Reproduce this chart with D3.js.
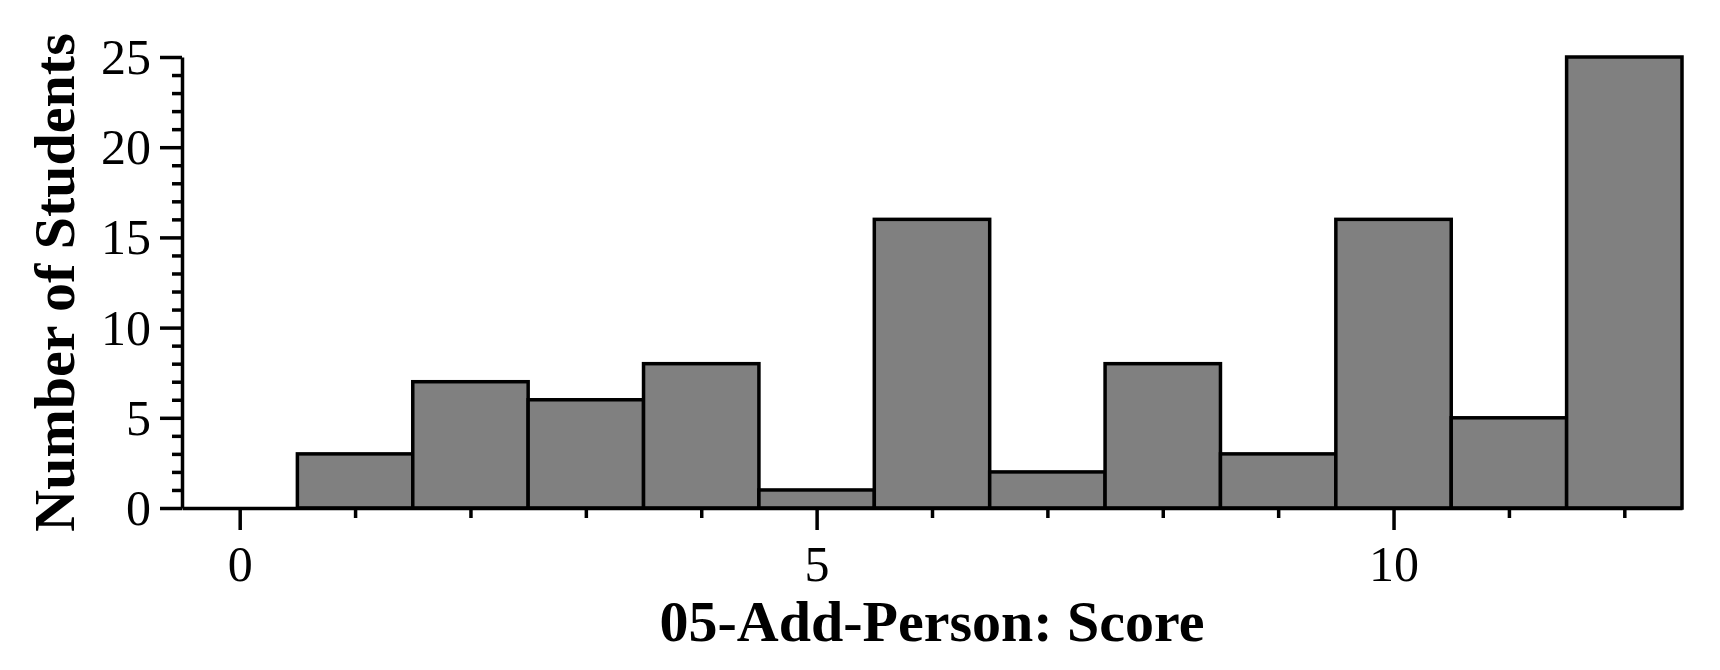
<!DOCTYPE html>
<meta charset="utf-8">
<style>

body {
  margin: 0;
  background: #fff;
}

svg {
  font-family: "Liberation Serif", "Times New Roman", serif;
}

.axis path,
.axis line {
  stroke: #000;
  stroke-width: 3.5;
}

.axis text {
  font-family: "Liberation Serif", "Times New Roman", serif;
  font-size: 50px;
  fill: #000;
}

.bar {
  fill: #808080;
  stroke: #000;
  stroke-width: 3.5;
}

.label {
  font-size: 58px;
  font-weight: bold;
}

</style>
<body>
<script src="https://cdn.jsdelivr.net/npm/d3@7"></script>
<script>

var width = 1720,
    height = 670;

// histogram of scores, one bin per integer score
var scores = [0, 1, 2, 3, 4, 5, 6, 7, 8, 9, 10, 11, 12];
var counts = [0, 3, 7, 6, 8, 1, 16, 2, 8, 3, 16, 5, 25];

var xMajor = [0, 5, 10],
    xMinor = [1, 2, 3, 4, 6, 7, 8, 9, 11, 12];
var yMajor = [0, 5, 10, 15, 20, 25],
    yMinor = d3.range(0, 26).filter(function(d) { return d % 5 !== 0; });

var xTitle = "05-Add-Person: Score",
    yTitle = "Number of Students";

var x = d3.scaleLinear()
    .domain([-0.5, 12.5])
    .range([182, 1682]);

var y = d3.scaleLinear()
    .domain([0, 25])
    .range([508, 57]);

var svg = d3.select("body").append("svg")
    .attr("width", width)
    .attr("height", height);

// bars
svg.selectAll(".bar")
    .data(scores)
  .enter().append("rect")
    .attr("class", "bar")
    .attr("x", function(d) { return x(d - 0.5); })
    .attr("y", function(d, i) { return y(counts[i]); })
    .attr("width", x(1) - x(0))
    .attr("height", function(d, i) { return y(0) - y(counts[i]); })
    .style("display", function(d, i) { return counts[i] ? null : "none"; });

// minor ticks first, then major axes over them
svg.append("g")
    .attr("class", "axis")
    .attr("transform", "translate(0," + y(0) + ")")
    .call(d3.axisBottom(x).tickValues(xMinor).tickSize(10).tickFormat("").tickSizeOuter(0))
    .select(".domain").remove();

svg.append("g")
    .attr("class", "axis")
    .attr("transform", "translate(" + x(-0.5) + ",0)")
    .call(d3.axisLeft(y).tickValues(yMinor).tickSize(10).tickFormat("").tickSizeOuter(0))
    .select(".domain").remove();

svg.append("g")
    .attr("class", "axis")
    .attr("transform", "translate(0," + y(0) + ")")
    .call(d3.axisBottom(x).tickValues(xMajor).tickSize(22).tickPadding(8).tickSizeOuter(0))
    .selectAll("text").attr("dy", "0.85em");

svg.append("g")
    .attr("class", "axis")
    .attr("transform", "translate(" + x(-0.5) + ",0)")
    .call(d3.axisLeft(y).tickValues(yMajor).tickSize(22).tickPadding(9).tickSizeOuter(0))
    .selectAll("text").attr("dy", "0.33em");

// axis titles
svg.append("text")
    .attr("class", "label")
    .attr("x", (x.range()[0] + x.range()[1]) / 2)
    .attr("y", 641)
    .attr("text-anchor", "middle")
    .text(xTitle);

svg.append("text")
    .attr("class", "label")
    .attr("transform", "translate(74," + (y.range()[0] + y.range()[1]) / 2 + ")rotate(-90)")
    .attr("text-anchor", "middle")
    .text(yTitle);

</script>
